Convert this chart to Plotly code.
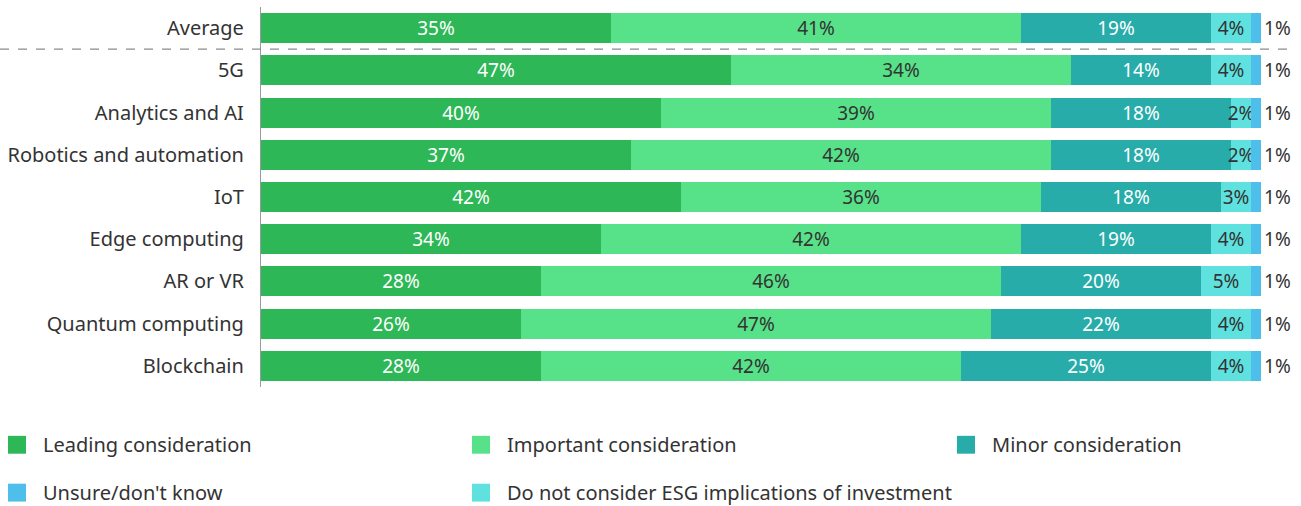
import plotly.graph_objects as go

categories = ["Average", "5G", "Analytics and AI", "Robotics and automation", "IoT",
              "Edge computing", "AR or VR", "Quantum computing", "Blockchain"]

series_names = ["Leading consideration", "Important consideration", "Minor consideration",
                "Do not consider ESG implications of investment", "Unsure/don't know"]

leading = [35, 47, 40, 37, 42, 34, 28, 26, 28]
important = [41, 34, 39, 42, 36, 42, 46, 47, 42]
minor = [19, 14, 18, 18, 18, 19, 20, 22, 25]
not_consider = [4, 4, 2, 2, 3, 4, 5, 4, 4]
unsure = [1, 1, 1, 1, 1, 1, 1, 1, 1]

values = [leading, important, minor, not_consider, unsure]
colors = ["#2DB757", "#57E188", "#27ACAA", "#5FE2DF", "#4EBEEB"]
text_colors = ["white", "#333333", "white", "#333333", "#333333"]

# legend layout: reading order differs from stack order
legend_order = [0, 1, 2, 4, 3]

font_family = "Noto Sans, sans-serif"
dark = "#333333"

fig = go.Figure()

for i, name in enumerate(series_names):
    last = i == len(series_names) - 1
    fig.add_trace(go.Bar(
        y=categories,
        x=values[i],
        name=name,
        orientation="h",
        marker=dict(color=colors[i], line_width=0),
        text=["{}%".format(v) for v in values[i]],
        textposition="outside" if last else "inside",
        insidetextanchor="middle",
        textangle=0,
        constraintext="none",
        textfont=dict(color=text_colors[i], size=19, family=font_family),
        outsidetextfont=dict(color=dark, size=19, family=font_family),
        cliponaxis=False,
        hoverinfo="skip",
    ))

# dashed separator between Average and the rest
fig.add_shape(
    type="line",
    xref="paper", yref="y",
    x0=-0.261, x1=1.029, y0=0.5, y1=0.5,
    line=dict(color="#8a8a94", width=1.2, dash="dash"),
)

# manual legend (3 columns x 2 rows)
col_x = [-0.253, 0.211, 0.696]
row_y = [-0.152, -0.278]
for k, idx in enumerate(legend_order):
    cx = col_x[k % 3]
    cy = row_y[k // 3]
    fig.add_shape(
        type="rect", xref="paper", yref="paper",
        x0=cx, x1=cx + 0.018, y0=cy - 0.0235, y1=cy + 0.0235,
        fillcolor=colors[idx], line_width=0,
    )
    fig.add_annotation(
        xref="paper", yref="paper",
        x=cx + 0.033, y=cy, xanchor="left", yanchor="middle",
        text=series_names[idx], showarrow=False,
        font=dict(size=20, color=dark, family=font_family),
    )

fig.update_layout(
    barmode="stack",
    bargap=0.29,
    width=1301,
    height=506,
    margin=dict(l=261, r=40, t=7, b=119),
    plot_bgcolor="white",
    paper_bgcolor="white",
    showlegend=False,
    font=dict(family=font_family, size=20, color=dark),
    xaxis=dict(range=[0, 100], visible=False, fixedrange=True),
    yaxis=dict(
        autorange="reversed",
        showline=True,
        linecolor="#9a9aa0",
        linewidth=1.2,
        ticks="",
        ticklabelstandoff=12,
        showgrid=False,
        fixedrange=True,
        tickfont=dict(size=20, color=dark),
    ),
)

fig.write_html("out.html", config={"displayModeBar": False},
               post_script="document.body.style.margin='0';")
